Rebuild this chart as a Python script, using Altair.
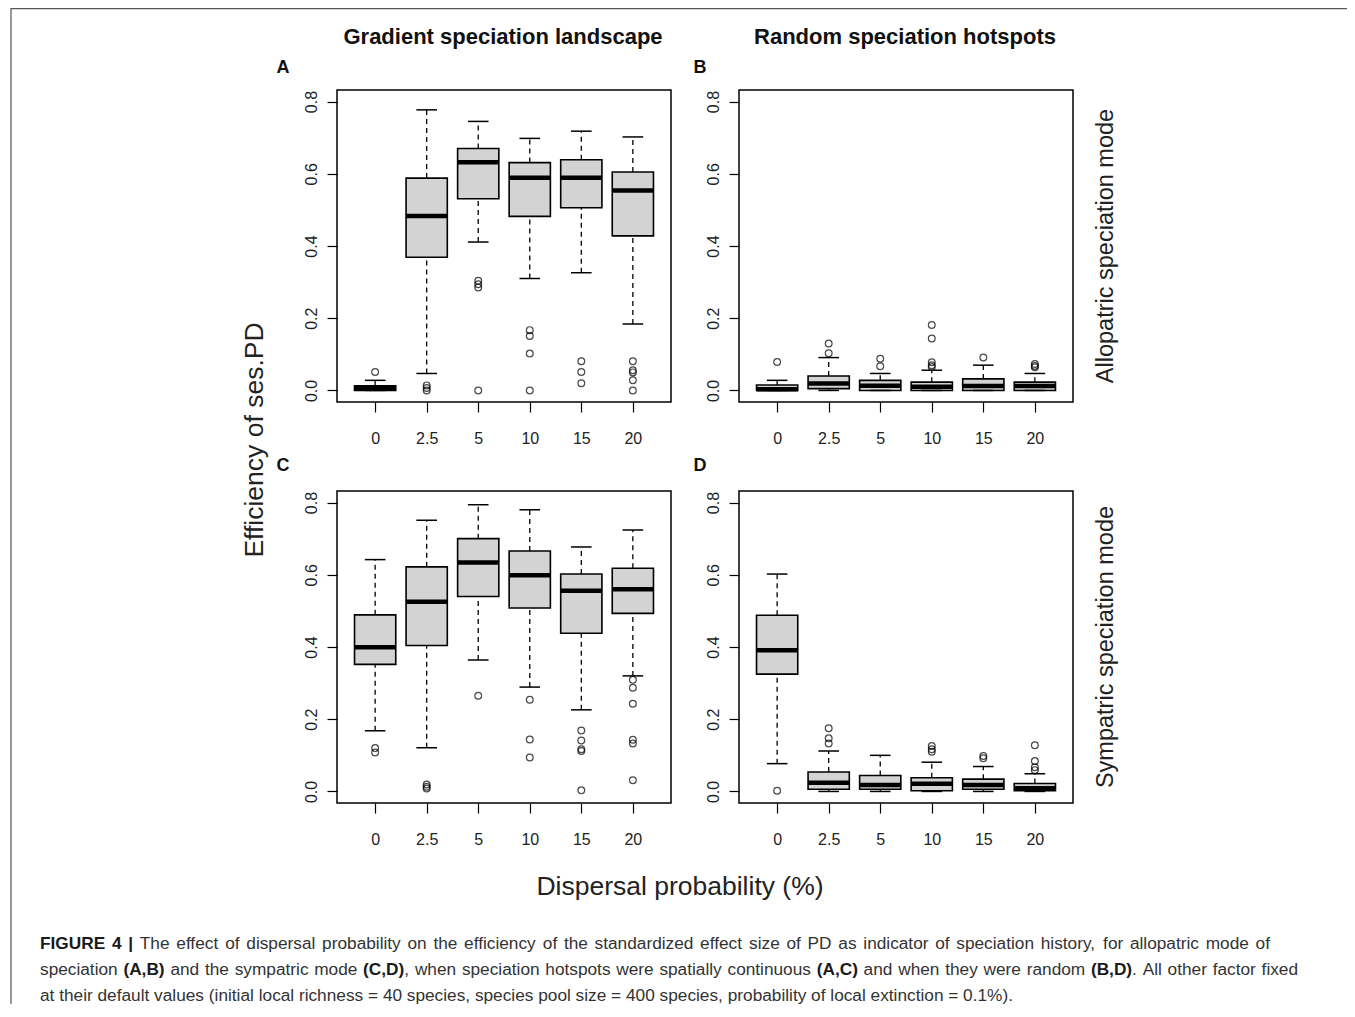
import json
import altair as alt
import pandas as pd

# ---------------- data ----------------
categories = ["0", "2.5", "5", "10", "15", "20"]

# Panel A: gradient landscape, allopatric mode
a_low  = [0.000, 0.047, 0.411, 0.310, 0.326, 0.184]
a_q1   = [0.000, 0.369, 0.531, 0.482, 0.506, 0.428]
a_med  = [0.006, 0.483, 0.632, 0.589, 0.589, 0.554]
a_q3   = [0.013, 0.588, 0.670, 0.631, 0.639, 0.605]
a_high = [0.028, 0.777, 0.745, 0.698, 0.718, 0.702]
a_out  = [[0.051], [0.014, 0.007, 0.000], [0.304, 0.294, 0.285, 0.000],
          [0.167, 0.151, 0.102, 0.000], [0.081, 0.051, 0.020],
          [0.081, 0.056, 0.050, 0.028, 0.000]]

# Panel B: random hotspots, allopatric mode
b_low  = [0.000, 0.000, 0.000, 0.000, 0.000, 0.000]
b_q1   = [0.000, 0.005, 0.000, 0.000, 0.000, 0.000]
b_med  = [0.003, 0.019, 0.013, 0.010, 0.012, 0.012]
b_q3   = [0.015, 0.040, 0.028, 0.023, 0.032, 0.023]
b_high = [0.028, 0.091, 0.047, 0.056, 0.070, 0.047]
b_out  = [[0.079], [0.103, 0.130], [0.067, 0.088],
          [0.065, 0.070, 0.078, 0.144, 0.181], [0.091],
          [0.064, 0.068, 0.073]]

# Panel C: gradient landscape, sympatric mode
c_low  = [0.168, 0.121, 0.364, 0.289, 0.226, 0.320]
c_q1   = [0.352, 0.404, 0.540, 0.508, 0.438, 0.493]
c_med  = [0.399, 0.525, 0.634, 0.599, 0.556, 0.560]
c_q3   = [0.489, 0.622, 0.700, 0.666, 0.602, 0.618]
c_high = [0.642, 0.751, 0.794, 0.780, 0.677, 0.724]
c_out  = [[0.120, 0.108], [0.019, 0.013, 0.008], [0.265],
          [0.254, 0.144, 0.094], [0.169, 0.141, 0.117, 0.112, 0.003],
          [0.309, 0.287, 0.243, 0.143, 0.133, 0.031]]

# Panel D: random hotspots, sympatric mode
d_low  = [0.077, 0.000, 0.000, 0.000, 0.000, 0.000]
d_q1   = [0.325, 0.006, 0.006, 0.002, 0.006, 0.002]
d_med  = [0.391, 0.024, 0.018, 0.021, 0.018, 0.009]
d_q3   = [0.488, 0.054, 0.044, 0.038, 0.034, 0.022]
d_high = [0.602, 0.112, 0.100, 0.081, 0.069, 0.049]
d_out  = [[0.002], [0.133, 0.147, 0.175], [],
          [0.110, 0.117, 0.126], [0.092, 0.098],
          [0.059, 0.067, 0.084, 0.128]]

y_ticks = [0.0, 0.2, 0.4, 0.6, 0.8]

# caption pieces: (text, bold)
caption_1 = [("FIGURE 4 |", True),
             (" The effect of dispersal probability on the efficiency of the standardized effect size of PD as indicator of speciation history, for allopatric mode of", False)]
caption_2 = [("speciation ", False), ("(A,B)", True), (" and the sympatric mode ", False),
             ("(C,D)", True), (", when speciation hotspots were spatially continuous ", False),
             ("(A,C)", True), (" and when they were random ", False), ("(B,D)", True),
             (". All other factor fixed", False)]
caption_3 = [("at their default values (initial local richness = 40 species, species pool size = 400 species, probability of local extinction = 0.1%).", False)]

# ---------------- layout / style ----------------
W, H = 1339, 996
XDOM = [0.26, 6.74]
YDOM = [-0.032, 0.832]
FONT = "Liberation Sans, Arial, sans-serif"
label_expr = json.dumps(categories) + "[datum.value - 1]"
EMPTY = alt.Data(values=[{}])


def panel(low, q1, med, q3, high, outs, x0, x1, y_top, y_bot):
    df = pd.DataFrame({"pos": list(range(1, len(categories) + 1)), "low": low,
                       "q1": q1, "med": med, "q3": q3, "high": high})
    odf = pd.DataFrame([{"pos": i + 1, "v": v} for i, vs in enumerate(outs) for v in vs])
    fdf = pd.DataFrame([{"fx0": XDOM[0], "fx1": XDOM[1], "fy0": YDOM[0], "fy1": YDOM[1]}])

    xs = alt.Scale(domain=XDOM, range=[x0, x1], nice=False, zero=False)
    ys = alt.Scale(domain=YDOM, range=[y_bot, y_top], nice=False, zero=False)
    xa = alt.Axis(orient="bottom", offset=y_bot - H, values=list(range(1, 7)),
                  labelExpr=label_expr, title=None, grid=False, domain=False,
                  tickSize=10, tickColor="black", tickWidth=1.2, labelPadding=31,
                  labelBaseline="alphabetic", labelFont=FONT, labelFontSize=16,
                  labelColor="#222", labelFlush=False, labelOverlap=False)
    ya = alt.Axis(orient="left", offset=-x0, values=y_ticks, format=".1f",
                  title=None, grid=False, domain=False, tickSize=10,
                  tickColor="black", tickWidth=1.2, labelPadding=11,
                  labelAngle=270, labelAlign="center", labelBaseline="alphabetic",
                  labelFont=FONT, labelFontSize=16, labelColor="#222",
                  labelFlush=False, labelOverlap=False)

    def X(f):
        return alt.X(f, type="quantitative", scale=xs, axis=xa)

    def Y(f):
        return alt.Y(f, type="quantitative", scale=ys, axis=ya)

    base = alt.Chart(df).transform_calculate(
        xl="datum.pos - 0.4", xr="datum.pos + 0.4",
        cl="datum.pos - 0.2", cr="datum.pos + 0.2")

    frame = alt.Chart(fdf).mark_rect(fillOpacity=0, stroke="black", strokeWidth=1.5).encode(
        x=X("fx0"), x2="fx1", y=Y("fy0"), y2="fy1")
    wlow = base.mark_rule(color="black", strokeWidth=1.3, strokeDash=[5, 4]).encode(
        x=X("pos"), y=Y("low"), y2="q1")
    whigh = base.mark_rule(color="black", strokeWidth=1.3, strokeDash=[5, 4]).encode(
        x=X("pos"), y=Y("q3"), y2="high")
    box = base.mark_rect(fill="#d3d3d3", stroke="black", strokeWidth=1.6).encode(
        x=X("xl"), x2="xr", y=Y("q1"), y2="q3")
    median = base.mark_rule(color="black", strokeWidth=4.5).encode(
        x=X("xl"), x2="xr", y=Y("med"))
    caplo = base.mark_rule(color="black", strokeWidth=1.5).encode(
        x=X("cl"), x2="cr", y=Y("low"))
    caphi = base.mark_rule(color="black", strokeWidth=1.5).encode(
        x=X("cl"), x2="cr", y=Y("high"))
    layers = [frame, wlow, whigh, box, median, caplo, caphi]
    if len(odf):
        pts = alt.Chart(odf).mark_point(shape="circle", filled=False, size=46,
                                        color="black", strokeWidth=1.2).encode(
            x=X("pos"), y=Y("v"))
        layers.append(pts)
    return alt.layer(*layers)


def label(text, x, y, size, weight="normal", angle=0, align="center",
          baseline="middle", color="#111", font=FONT):
    kw = dict(text=text, fontSize=size, fontWeight=weight, align=align,
              baseline=baseline, color=color, font=font)
    if angle:
        kw["angle"] = angle
    return alt.Chart(EMPTY).mark_text(**kw).encode(x=alt.value(x), y=alt.value(y))


# --- Arial / Liberation Sans advance widths (per 1000 em) for caption layout ---
_REG = {" ": 278, "(": 333, ")": 333, ",": 278, ".": 278, "%": 889, "=": 584,
        "|": 260, "A": 667, "B": 667, "C": 722, "D": 722, "E": 667, "F": 611,
        "G": 778, "I": 278, "P": 667, "R": 722, "T": 611, "U": 722,
        "a": 556, "b": 556, "c": 500, "d": 556, "e": 556, "f": 278, "g": 556,
        "h": 556, "i": 222, "j": 222, "k": 500, "l": 222, "m": 833, "n": 556,
        "o": 556, "p": 556, "q": 556, "r": 333, "s": 500, "t": 278, "u": 556,
        "v": 500, "w": 722, "x": 500, "y": 500, "z": 500}
_BOLD = {" ": 278, "(": 333, ")": 333, ",": 278, ".": 278, "|": 280,
         "A": 722, "B": 722, "C": 722, "D": 722, "E": 667, "F": 611, "G": 778,
         "I": 278, "R": 722, "U": 722}


def tw(s, bold):
    tab = _BOLD if bold else _REG
    return sum(tab.get(ch, 556) for ch in s) / 1000.0


def tokens(pieces):
    items = []
    for text, bold in pieces:
        buf = ""
        for ch in text:
            if ch == " ":
                if buf:
                    items.append(("run", buf, bold))
                    buf = ""
                items.append(("space", " ", bold))
            else:
                buf += ch
        if buf:
            items.append(("run", buf, bold))
    return items


def natural_width(pieces):
    return sum(tw(t, b) for _, t, b in tokens(pieces))


def layout(pieces, x0, size, target=None):
    items = tokens(pieces)
    run_w = sum(tw(t, b) for k, t, b in items if k == "run") * size
    n_sp = sum(1 for k, _, _ in items if k == "space")
    sp = 0.278 * size
    if target is not None and n_sp:
        sp = max(0.18 * size, (target - x0 - run_w) / n_sp)
    x, out = x0, []
    for k, t, b in items:
        if k == "run":
            out.append((t, b, x))
            x += tw(t, b) * size
        else:
            x += sp
    return out


CAP_X0 = 32
CAP_SIZE = 973.0 / natural_width(caption_3)

pA = panel(a_low, a_q1, a_med, a_q3, a_high, a_out, 329, 663, 82, 394)
pB = panel(b_low, b_q1, b_med, b_q3, b_high, b_out, 731, 1065, 82, 394)
pC = panel(c_low, c_q1, c_med, c_q3, c_high, c_out, 329, 663, 483, 795)
pD = panel(d_low, d_q1, d_med, d_q3, d_high, d_out, 731, 1065, 483, 795)

outer = alt.Chart(EMPTY).mark_rect(fillOpacity=0, stroke="#555", strokeWidth=1.2).encode(
    x=alt.value(3), y=alt.value(0.6), x2=alt.value(W + 50), y2=alt.value(H + 50))

texts = [
    label("Gradient speciation landscape", 495, 29, 22, "bold"),
    label("Random speciation hotspots", 897, 29, 22, "bold"),
    label("A", 275, 60, 18, "bold"),
    label("B", 692, 60, 18, "bold"),
    label("C", 275, 458, 18, "bold"),
    label("D", 692, 458, 18, "bold"),
    label("Allopatric speciation mode", 1098, 238, 23.5, angle=270, color="#222"),
    label("Sympatric speciation mode", 1098, 639, 23.5, angle=270, color="#222"),
    label("Efficiency of ses.PD", 247, 432, 26.5, angle=270, color="#222"),
    label("Dispersal probability (%)", 672, 879, 26.5, color="#222"),
]

for pieces, yy, target in [(caption_1, 936, 1262), (caption_2, 962, 1290), (caption_3, 988, None)]:
    for t, bold, xx in layout(pieces, CAP_X0, CAP_SIZE, target):
        texts.append(label(t, round(xx, 1), yy, round(CAP_SIZE, 2),
                           "bold" if bold else "normal", align="left",
                           color="#1a1a1a" if bold else "#333"))

chart = alt.layer(outer, pA, pB, pC, pD, *texts).resolve_scale(
    x="independent", y="independent"
).properties(
    width=W, height=H, padding=0, autosize=alt.AutoSizeParams(type="none"),
    background="white"
).configure_view(strokeWidth=0)

chart.save("out.html", embed_options={"renderer": "svg", "actions": False})
